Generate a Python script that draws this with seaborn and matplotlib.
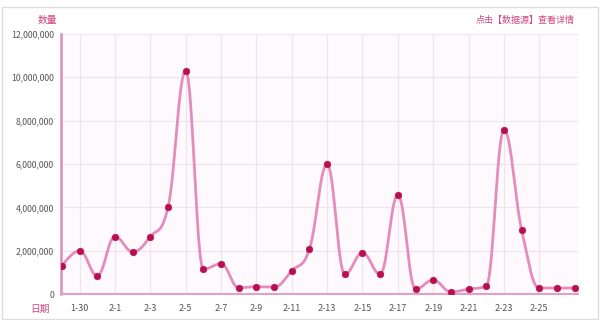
import numpy as np
import pandas as pd
import matplotlib
matplotlib.use("Agg")
import matplotlib.pyplot as plt
import seaborn as sns

dates = ["1-29", "1-30", "1-31"] + [f"2-{d}" for d in range(1, 28)]
values = [1300000, 2000000, 850000, 2650000, 1950000, 2650000, 4000000, 10300000,
          1150000, 1400000, 290000, 340000, 320000, 1080000, 2080000, 5980000,
          920000, 1900000, 920000, 4570000, 230000, 650000, 100000, 230000,
          370000, 7570000, 2960000, 280000, 280000, 280000]
tick_labels = ["1-30", "2-1", "2-3", "2-5", "2-7", "2-9", "2-11", "2-13",
               "2-15", "2-17", "2-19", "2-21", "2-23", "2-25"]
y_ticks = [0, 2000000, 4000000, 6000000, 8000000, 10000000, 12000000]

sns.set_theme(style="white")
plt.rcParams['font.family'] = ['Noto Sans CJK SC', 'DejaVu Sans']

df = pd.DataFrame({"idx": np.arange(len(dates)), "date": dates, "value": values})


# smooth rendering of the line (spline with no overshoot at extremes)
def spline(x, y, n=40, smoothing=1.5):
    x = np.asarray(x, float)
    y = np.asarray(y, float)
    N = len(x)
    lc = np.zeros((N, 2))
    rc = np.zeros((N, 2))
    for i in range(N):
        if i == 0 or i == N - 1:
            lc[i] = rc[i] = (x[i], y[i])
            continue
        d = smoothing + 1
        lx = (smoothing * x[i] + x[i - 1]) / d
        ly = (smoothing * y[i] + y[i - 1]) / d
        rx = (smoothing * x[i] + x[i + 1]) / d
        ry = (smoothing * y[i] + y[i + 1]) / d
        if rx != lx:
            corr = (ry - ly) * (rx - x[i]) / (rx - lx) + y[i] - ry
            ly += corr
            ry += corr
        if ly > y[i - 1] and ly > y[i]:
            ly = max(y[i - 1], y[i]); ry = 2 * y[i] - ly
        elif ly < y[i - 1] and ly < y[i]:
            ly = min(y[i - 1], y[i]); ry = 2 * y[i] - ly
        if ry > y[i + 1] and ry > y[i]:
            ry = max(y[i + 1], y[i]); ly = 2 * y[i] - ry
        elif ry < y[i + 1] and ry < y[i]:
            ry = min(y[i + 1], y[i]); ly = 2 * y[i] - ry
        lc[i] = (lx, ly)
        rc[i] = (rx, ry)
    xs, ys = [], []
    t = np.linspace(0, 1, n, endpoint=False)
    for i in range(N - 1):
        p0 = np.array([x[i], y[i]])
        p1 = rc[i]
        p2 = lc[i + 1]
        p3 = np.array([x[i + 1], y[i + 1]])
        b = ((1 - t) ** 3)[:, None] * p0 + (3 * (1 - t) ** 2 * t)[:, None] * p1 \
            + (3 * (1 - t) * t ** 2)[:, None] * p2 + (t ** 3)[:, None] * p3
        xs.extend(b[:, 0]); ys.extend(b[:, 1])
    xs.append(x[-1]); ys.append(y[-1])
    return np.array(xs), np.array(ys)


sx, sy = spline(df["idx"].values, df["value"].values)
smooth = pd.DataFrame({"x": sx, "y": sy})

fig = plt.figure(figsize=(6, 3.2), dpi=100)
fig.patch.set_facecolor("white")
ax = fig.add_axes([0.1017, 0.081, 0.862, 0.813])
ax.set_facecolor("#fdf9fc")

sns.lineplot(data=smooth, x="x", y="y", ax=ax, color="#e58cbf", linewidth=2.0, sort=False)
sns.scatterplot(data=df, x="idx", y="value", ax=ax, color="#b8104f", s=22,
                edgecolor="#b8104f", linewidth=0.5, zorder=5)

ax.set_xlim(-0.05, 29.2)
ax.set_ylim(0, 12000000)
ax.set_yticks(y_ticks)
ax.set_yticklabels([f"{v:,}" for v in y_ticks], fontsize=6.3, color="#555555")
tick_pos = [dates.index(t) for t in tick_labels]
ax.set_xticks(tick_pos)
ax.set_xticklabels(tick_labels, fontsize=6.5, color="#555555")
ax.tick_params(axis="y", length=0, pad=5)
ax.tick_params(axis="x", length=0, pad=7)
ax.grid(True, color="#efe4ec", linewidth=0.8)
ax.set_xlabel("")
ax.set_ylabel("")
for s in ["top", "right"]:
    ax.spines[s].set_visible(False)
ax.spines["left"].set_color("#d98fb6")
ax.spines["left"].set_linewidth(1.8)
ax.spines["bottom"].set_color("#e3a0c4")
ax.spines["bottom"].set_linewidth(1.5)

fig.text(57 / 600, 1 - 20 / 320, "数量", fontsize=7, color="#d0457f", ha="right", va="center")
fig.text(50 / 600, 1 - 309 / 320, "日期", fontsize=7, color="#d0457f", ha="right", va="center")
fig.text(575 / 600, 1 - 20 / 320, "点击【数据源】查看详情", fontsize=6.5, color="#d0457f",
         ha="right", va="center")

border = plt.Rectangle((0.003, 0.003), 0.994, 0.975, transform=fig.transFigure,
                       fill=False, edgecolor="#dddddd", linewidth=1)
fig.patches.append(border)

fig.savefig("out.png", dpi=100, facecolor="white")
